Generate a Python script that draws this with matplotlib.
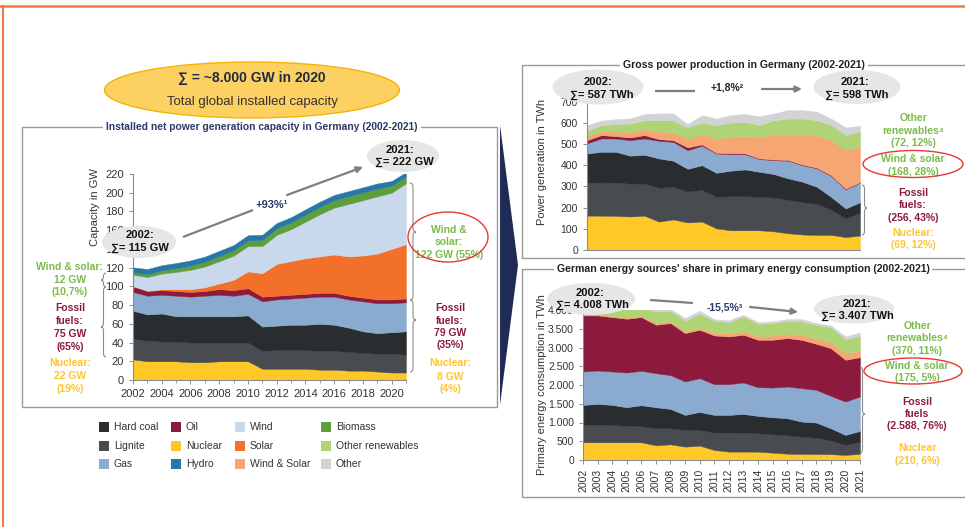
import matplotlib
matplotlib.use('Agg')
import matplotlib.pyplot as plt
from matplotlib.patches import Ellipse, Rectangle, Polygon, PathPatch
from matplotlib.path import Path
from matplotlib.ticker import FuncFormatter, MultipleLocator

plt.rcParams['font.family'] = ['Liberation Sans', 'DejaVu Sans']

# ---------------- data ----------------
years = list(range(2002, 2022))

# Installed capacity (GW)
cap_nuclear = [22, 20, 20, 20, 19, 19, 20, 20, 20, 12, 12, 12, 12, 11, 11, 10, 10, 9, 8, 8]
cap_lignite = [22, 22, 21, 21, 21, 21, 20, 20, 20, 19, 20, 20, 20, 20, 20, 20, 19, 19, 20, 19]
cap_hardcoal = [30, 28, 30, 27, 28, 28, 28, 28, 29, 26, 26, 27, 27, 29, 28, 26, 23, 22, 23, 25]
cap_gas = [20, 20, 20, 22, 21, 22, 23, 22, 23, 27, 28, 28, 29, 29, 30, 30, 32, 32, 31, 31]
cap_oil = [6, 5, 5, 5, 5, 5, 6, 6, 6, 5, 4, 4, 4, 4, 4, 4, 4, 4, 4, 4]
cap_solar = [0.3, 0.4, 1, 2, 3, 4, 6, 11, 18, 25, 34, 36, 38, 39, 41, 42, 45, 49, 54, 58]
cap_wind = [12, 14.6, 16.6, 18.4, 20.6, 22.2, 23.8, 25.7, 27, 29, 31, 34, 39, 45, 50, 56, 59, 61, 60, 65]
cap_biomass = [2.5, 3, 3.5, 4, 4.5, 5, 5.5, 5.8, 6, 6.5, 7, 7.3, 7.6, 7.8, 8, 8.1, 8.2, 8.3, 7.5, 7.5]
cap_hydro = [5.5, 5.5, 5.5, 5.5, 5.6, 5.6, 5.6, 5.6, 5.6, 5.6, 5.6, 5.6, 5.6, 5.6, 5.6, 5.6, 5.6, 5.6, 5.0, 4.5]

# Gross power production (TWh)
gen_nuclear = [162, 162, 161, 158, 162, 134, 144, 130, 134, 102, 93, 93, 93, 88, 79, 73, 71, 71, 61, 68]
gen_lignite = [155, 157, 157, 155, 151, 160, 154, 146, 149, 149, 161, 161, 158, 160, 157, 153, 146, 119, 88, 108]
gen_hardcoal = [138, 144, 145, 132, 136, 138, 123, 107, 117, 113, 120, 126, 118, 110, 102, 96, 81, 60, 47, 49]
gen_gas = [48, 63, 63, 73, 77, 83, 89, 88, 92, 91, 78, 72, 60, 66, 83, 78, 87, 99, 90, 92]
gen_oil = [15, 16, 11, 13, 16, 8, 8, 13, 6, 3, 5, 4, 3, 3, 3, 3, 3, 3, 3, 3]
gen_windsolar = [17, 18, 22, 25, 28, 35, 38, 40, 49, 68, 78, 82, 100, 118, 122, 145, 152, 165, 183, 168]
gen_otherren = [27, 29, 35, 41, 42, 54, 56, 54, 54, 63, 65, 67, 57, 67, 74, 72, 72, 72, 70, 72]
gen_other = [27, 21, 23, 24, 29, 32, 32, 16, 35, 31, 36, 36, 42, 32, 40, 40, 40, 31, 36, 26]

# Primary energy consumption (TWh)
pec_nuclear = [472, 472, 472, 472, 472, 392, 418, 356, 383, 267, 223, 223, 223, 196, 169, 160, 160, 155, 135, 165]
pec_lignite = [463, 463, 463, 436, 428, 454, 428, 445, 418, 463, 507, 507, 489, 490, 490, 463, 437, 362, 266, 325]
pec_hardcoal = [534, 561, 534, 499, 560, 561, 517, 401, 481, 472, 472, 499, 463, 454, 454, 401, 400, 329, 267, 285]
pec_gas = [891, 891, 891, 926, 918, 908, 899, 891, 900, 820, 820, 837, 766, 792, 846, 891, 873, 864, 890, 917]
pec_oil = [1496, 1469, 1451, 1434, 1433, 1292, 1389, 1291, 1291, 1300, 1273, 1274, 1265, 1274, 1292, 1291, 1229, 1273, 1114, 1051]
pec_windsolar = [20, 22, 25, 30, 35, 45, 48, 55, 60, 70, 80, 90, 100, 110, 120, 130, 145, 160, 180, 175]
pec_otherren = [104, 122, 174, 253, 254, 311, 282, 275, 367, 330, 294, 400, 328, 335, 343, 360, 363, 400, 372, 390]
pec_other = [28, 30, 30, 30, 30, 44, 44, 71, 80, 36, 53, 44, 44, 45, 44, 62, 44, 50, 71, 90]

legend_labels = ['Hard coal', 'Lignite', 'Gas', 'Oil', 'Nuclear', 'Hydro',
                 'Wind', 'Solar', 'Wind & Solar', 'Biomass', 'Other renewables', 'Other']

# ---------------- style ----------------
C = {
    'Hard coal': '#2A2D30', 'Lignite': '#484B4F', 'Gas': '#8AAACF', 'Oil': '#8C1A3C',
    'Nuclear': '#FDC828', 'Hydro': '#2778A8', 'Wind': '#C9D9EB', 'Solar': '#F2702A',
    'Wind & Solar': '#F5A673', 'Biomass': '#5E9E3D', 'Other renewables': '#AED475',
    'Other': '#D2D3D4'}
GREEN = '#7CBB4B'
CRIMSON = '#8B1A3E'
YELLOW = '#FDC530'
NAVY = '#2B3A67'
TXT = '#333333'
SPINE = '#8C8C8C'

W, H = 965, 527
fig = plt.figure(figsize=(W / 100, H / 100), dpi=100)


def ax_px(l, t, r, b):
    return fig.add_axes([l / W, 1 - b / H, (r - l) / W, (b - t) / H])


def style(ax):
    for s in ['top', 'right']:
        ax.spines[s].set_visible(False)
    for s in ['left', 'bottom']:
        ax.spines[s].set_color(SPINE)
        ax.spines[s].set_linewidth(0.8)
    ax.tick_params(colors=SPINE, labelcolor=TXT, labelsize=7.5, length=3, width=0.7)
    ax.margins(0)


def stack(ax, series, names):
    polys = ax.stackplot(years, *series, colors=[C[n] for n in names])
    for p in polys:
        p.set_edgecolor(p.get_facecolor())
        p.set_linewidth(0.3)


de = lambda v, p: f"{int(v):,}".replace(',', '.')

# Left chart
ax1 = ax_px(133, 174, 406, 380)
stack(ax1, [cap_nuclear, cap_lignite, cap_hardcoal, cap_gas, cap_oil, cap_solar, cap_wind, cap_biomass, cap_hydro],
      ['Nuclear', 'Lignite', 'Hard coal', 'Gas', 'Oil', 'Solar', 'Wind', 'Biomass', 'Hydro'])
style(ax1)
ax1.set_xlim(2002, 2021)
ax1.set_ylim(0, 220)
ax1.set_yticks(range(0, 221, 20))
ax1.set_xticks(range(2002, 2021, 2))
ax1.xaxis.set_minor_locator(MultipleLocator(1))
ax1.tick_params(axis='x', which='minor', length=2.5, color=SPINE)
ax1.tick_params(labelsize=8)

# Top right chart
ax2 = ax_px(587, 101.6, 860, 250)
stack(ax2, [gen_nuclear, gen_lignite, gen_hardcoal, gen_gas, gen_oil, gen_windsolar, gen_otherren, gen_other],
      ['Nuclear', 'Lignite', 'Hard coal', 'Gas', 'Oil', 'Wind & Solar', 'Other renewables', 'Other'])
style(ax2)
ax2.set_xlim(2002, 2021)
ax2.set_ylim(0, 700)
ax2.set_yticks(range(0, 701, 100))
ax2.set_xticks([])

# Bottom right chart
ax3 = ax_px(583, 310, 860, 460)
stack(ax3, [pec_nuclear, pec_lignite, pec_hardcoal, pec_gas, pec_oil, pec_windsolar, pec_otherren, pec_other],
      ['Nuclear', 'Lignite', 'Hard coal', 'Gas', 'Oil', 'Wind & Solar', 'Other renewables', 'Other'])
style(ax3)
ax3.set_xlim(2002, 2021)
ax3.set_ylim(0, 4000)
ax3.set_yticks(range(0, 4001, 500))
ax3.yaxis.set_major_formatter(FuncFormatter(de))
ax3.set_xticks(years)
ax3.set_xticklabels([str(y) for y in years], rotation=90, fontsize=7.5)

# ---------------- overlay (pixel coords) ----------------
ov = fig.add_axes([0, 0, 1, 1], zorder=10)
ov.set_xlim(0, W)
ov.set_ylim(H, 0)
ov.axis('off')
ov.patch.set_alpha(0)


def t(x, y, s, color=TXT, size=7.5, bold=True, **kw):
    ov.text(x, y, s, color=color, fontsize=size, fontweight='bold' if bold else 'normal',
            ha=kw.pop('ha', 'center'), va=kw.pop('va', 'center'), **kw)


def lines(x, ys, texts, color, size=7.5):
    for y, s in zip(ys, texts):
        t(x, y, s, color=color, size=size)


def ell(x, y, w, h, fc='#E6E6E6', ec='none', lw=1.0, z=11):
    ov.add_patch(Ellipse((x, y), w, h, facecolor=fc, edgecolor=ec, lw=lw, zorder=z))


def brace(x, y1, y2, w, ym=None):
    if ym is None:
        ym = (y1 + y2) / 2
    r = min(4, (y2 - y1) / 4)
    xm = x + w / 2
    verts = [(x, y1), (xm, y1), (xm, y1 + r), (xm, ym - r), (xm, ym), (x + w, ym),
             (xm, ym), (xm, ym + r), (xm, y2 - r), (xm, y2), (x, y2)]
    codes = [Path.MOVETO, Path.CURVE3, Path.CURVE3, Path.LINETO, Path.CURVE3, Path.CURVE3,
             Path.CURVE3, Path.CURVE3, Path.LINETO, Path.CURVE3, Path.CURVE3]
    ov.add_patch(PathPatch(Path(verts, codes), fill=False, edgecolor='#8C8C8C', lw=0.8))


def arrow(x0, y0, x1, y1, head=True):
    if head:
        ov.annotate('', xy=(x1, y1), xytext=(x0, y0),
                    arrowprops=dict(arrowstyle='-|>', color='#7F7F7F', lw=1.6, mutation_scale=9,
                                    shrinkA=0, shrinkB=0))
    else:
        ov.plot([x0, x1], [y0, y1], color='#7F7F7F', lw=1.6, solid_capstyle='butt')


# orange frame
ov.plot([0, W], [6, 6], color='#F07A45', lw=1.8)
ov.plot([2.5, 2.5], [6, H], color='#F07A45', lw=1.5)

# boxes
for (x0, y0, x1, y1) in [(22, 127, 497, 407), (522, 65, 975, 258), (522, 269, 975, 497)]:
    ov.add_patch(Rectangle((x0, y0), x1 - x0, y1 - y0, fill=False, edgecolor='#9A9A9A', lw=1.0))

bb = dict(facecolor='white', edgecolor='none', pad=2)
t(262, 127, 'Installed net power generation capacity in Germany (2002-2021)', color=NAVY, size=7.4, bbox=bb)
t(744, 65, 'Gross power production in Germany (2002-2021)', color='#222222', size=7.6, bbox=bb)
t(743, 269, "German energy sources' share in primary energy consumption (2002-2021)", color='#222222', size=7.6, bbox=bb)

# navy triangle
ov.add_patch(Polygon([(500, 125), (518, 265), (500, 405)], closed=True, facecolor='#1F2A55', edgecolor='none'))

# yellow ellipse
ell(252, 90, 295, 56, fc='#FDD062', ec='#F2B705', lw=1.0)
t(252, 78, '∑ = ~8.000 GW in 2020', color='#1F2A44', size=10, zorder=12)
t(252, 102, 'Total global installed capacity', color='#333333', size=9.5, bold=False, zorder=12)

# axis labels
t(95, 207, 'Capacity in GW', size=8, bold=False, rotation=90)
t(542, 162, 'Power generation in TWh', size=8, bold=False, rotation=90)
t(542, 385, 'Primary energy consumption in TWh', size=8, bold=False, rotation=90)

# ---- left chart annotations
ell(139, 242, 74, 32)
t(140, 235, '2002:', color='#111111', size=8, zorder=12)
t(140, 248, '∑= 115 GW', color='#111111', size=8, zorder=12)
ell(403, 156, 72, 32)
t(400, 150, '2021:', color='#111111', size=8, zorder=12)
t(404, 162, '∑= 222 GW', color='#111111', size=8, zorder=12)
arrow(183, 237, 253, 210, head=False)
t(272, 205, '+93%¹', color=NAVY, size=8)
arrow(287, 195, 363, 167)

lines(70, [267, 280, 292], ['Wind & solar:', '12 GW', '(10,7%)'], GREEN)
lines(70, [308, 321, 334, 347], ['Fossil', 'fuels:', '75 GW', '(65%)'], CRIMSON)
lines(70, [363, 376, 389], ['Nuclear:', '22 GW', '(19%)'], YELLOW)
brace(106, 273, 287, -5)
brace(106, 287, 357, -5, ym=327)

ell(448, 237, 80, 50, fc='none', ec='#E53935', lw=1.0)
lines(449, [230, 242, 255], ['Wind &', 'solar:', '122 GW (55%)'], GREEN)
lines(450, [308, 321, 333, 345], ['Fossil', 'fuels:', '79 GW', '(35%)'], CRIMSON)
lines(450, [363, 377, 389], ['Nuclear:', '8 GW', '(4%)'], YELLOW)
brace(410, 183, 300, 6, ym=232)
brace(410, 300, 372, 6, ym=320)

# legend
col_x = [99, 171, 235, 321]
row_y = [427, 446, 464]
for i, name in enumerate(legend_labels):
    cx, ry = col_x[i // 3], row_y[i % 3]
    ov.add_patch(Rectangle((cx, ry - 5), 10, 10, facecolor=C[name], edgecolor='none'))
    t(cx + 15, ry, name, size=7.5, bold=False, ha='left')

# ---- top right annotations
ell(598, 87, 91, 35)
t(598, 82, '2002:', color='#111111', size=8, zorder=12)
t(602, 95, '∑= 587 TWh', color='#111111', size=8, zorder=12)
ell(857, 87, 87, 34)
t(855, 82, '2021:', color='#111111', size=8, zorder=12)
t(857, 95, '∑= 598 TWh', color='#111111', size=8, zorder=12)
arrow(655, 91, 695, 91, head=False)
t(727, 88, '+1,8%²', color='#222222', size=7.5)
arrow(762, 89, 802, 89)

lines(913, [118, 131, 143], ['Other', 'renewables⁴', '(72, 12%)'], GREEN)
ell(913, 164, 100, 27, fc='none', ec='#E53935', lw=1.0)
lines(913, [159, 172], ['Wind & solar', '(168, 28%)'], GREEN)
lines(913, [193, 205, 218], ['Fossil', 'fuels:', '(256, 43%)'], CRIMSON)
lines(913, [233, 245], ['Nuclear:', '(69, 12%)'], YELLOW)
brace(862, 185, 235, 5, ym=208)

# ---- bottom right annotations
ell(591, 299, 88, 32)
t(590, 293, '2002:', color='#111111', size=8, zorder=12)
t(593, 305, '∑= 4.008 TWh', color='#111111', size=8, zorder=12)
ell(854, 309, 80, 29)
t(857, 304, '2021:', color='#111111', size=8, zorder=12)
t(857, 316, '∑= 3.407 TWh', color='#111111', size=8, zorder=12)
arrow(650, 300, 693, 303, head=False)
t(725, 307, '-15,5%³', color=NAVY, size=7.5)
arrow(750, 307, 798, 312)

lines(917, [326, 338, 351], ['Other', 'renewables⁴', '(370, 11%)'], GREEN)
ell(913, 371, 98, 26, fc='none', ec='#E53935', lw=1.0)
lines(917, [366, 378], ['Wind & solar', '(175, 5%)'], GREEN)
lines(917, [402, 414, 426], ['Fossil', 'fuels', '(2.588, 76%)'], CRIMSON)
lines(917, [448, 461], ['Nuclear', '(210, 6%)'], YELLOW)
brace(860, 367, 453, 5, ym=414)

fig.savefig('out.png', dpi=100)
